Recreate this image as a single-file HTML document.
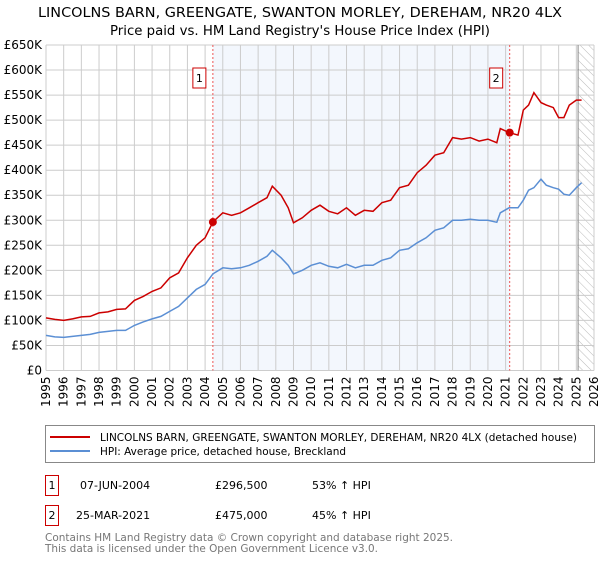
<!DOCTYPE html>
<html><head><meta charset="utf-8"><style>
body{margin:0;background:#fff;font-family:"Liberation Sans","DejaVu Sans",sans-serif;}
text{font-family:"DejaVu Sans","Liberation Sans",sans-serif;}
</style></head><body>
<svg id="chart" width="600" height="560" xmlns="http://www.w3.org/2000/svg">
<defs><pattern id="hatch" width="6" height="6" patternUnits="userSpaceOnUse" patternTransform="rotate(-45)"><line x1="0" y1="0" x2="0" y2="6" stroke="#bbb" stroke-width="1"/></pattern></defs>
<text x="38" y="17" font-size="13" textLength="524" lengthAdjust="spacingAndGlyphs">LINCOLNS BARN, GREENGATE, SWANTON MORLEY, DEREHAM, NR20 4LX</text>
<text x="110" y="35" font-size="13" textLength="380" lengthAdjust="spacingAndGlyphs">Price paid vs. HM Land Registry's House Price Index (HPI)</text>
<g id="plot"></g>
<rect x="45.5" y="425.5" width="549" height="37" fill="#fff" stroke="#888"/>
<line x1="50" y1="437" x2="90" y2="437" stroke="#cc0000" stroke-width="2"/>
<text x="100" y="441" font-size="11" textLength="477" lengthAdjust="spacingAndGlyphs">LINCOLNS BARN, GREENGATE, SWANTON MORLEY, DEREHAM, NR20 4LX (detached house)</text>
<line x1="50" y1="451" x2="90" y2="451" stroke="#5b8fd4" stroke-width="2"/>
<text x="100" y="455" font-size="11" textLength="246" lengthAdjust="spacingAndGlyphs">HPI: Average price, detached house, Breckland</text>
<g font-size="11">
<rect x="45.5" y="475.5" width="13" height="20" fill="#fff" stroke="#cc0000"/>
<text x="52" y="489" text-anchor="middle">1</text>
<text x="80" y="489">07-JUN-2004</text><text x="215" y="489">£296,500</text><text x="312" y="489">53% ↑ HPI</text></g>
<g font-size="11">
<rect x="45.5" y="505.5" width="13" height="20" fill="#fff" stroke="#cc0000"/>
<text x="52" y="519" text-anchor="middle">2</text>
<text x="76" y="519">25-MAR-2021</text><text x="215" y="519">£475,000</text><text x="312" y="519">45% ↑ HPI</text></g>
<text x="45" y="541" font-size="11" fill="#777" textLength="408" lengthAdjust="spacingAndGlyphs">Contains HM Land Registry data © Crown copyright and database right 2025.</text>
<text x="45" y="552" font-size="11" fill="#777" textLength="333" lengthAdjust="spacingAndGlyphs">This data is licensed under the Open Government Licence v3.0.</text>
</svg>
<script>
const hpiYears=[1995,1995.5,1996,1996.5,1997,1997.5,1998,1998.5,1999,1999.5,2000,2000.5,2001,2001.5,2002,2002.5,2003,2003.5,2004,2004.44,2005,2005.5,2006,2006.5,2007,2007.5,2007.8,2008.3,2008.7,2009,2009.5,2010,2010.5,2011,2011.5,2012,2012.5,2013,2013.5,2014,2014.5,2015,2015.5,2016,2016.5,2017,2017.5,2018,2018.5,2019,2019.5,2020,2020.5,2020.7,2021.2,2021.7,2022,2022.3,2022.6,2023,2023.3,2023.7,2024,2024.3,2024.6,2025,2025.3];
const hpiValues=[70,67,66,68,70,72,76,78,80,80,90,97,103,108,118,128,145,162,172,193,205,203,205,210,218,228,240,225,210,193,200,210,215,208,205,212,205,210,210,220,225,240,243,255,265,280,285,300,300,302,300,300,296,315,325,325,340,360,365,382,370,365,362,352,350,365,375];
const priceValues=[105,102,100,103,107,108,115,117,122,123,140,148,158,165,185,195,225,250,265,296.5,315,310,315,325,335,345,368,350,325,295,305,320,330,318,313,325,310,320,318,335,340,365,370,395,410,430,435,465,462,465,458,462,455,483,475,470,520,530,555,535,530,525,505,505,530,540,540];
const yTicks=[0,50,100,150,200,250,300,350,400,450,500,550,600,650];
const xTicks=[1995,1996,1997,1998,1999,2000,2001,2002,2003,2004,2005,2006,2007,2008,2009,2010,2011,2012,2013,2014,2015,2016,2017,2018,2019,2020,2021,2022,2023,2024,2025,2026];
const sales=[{t:2004.44,v:296.5,label:"1"},{t:2021.23,v:475,label:"2"}];
const X0=46,X1=594,Y0=370.5,Y1=45;
const x=t=>X0+(t-1995)/(2026-1995)*(X1-X0);
const y=v=>Y0-v/650*(Y0-Y1);
const ns="http://www.w3.org/2000/svg";
const g=document.getElementById('plot');
function mk(tag,attrs){const e=document.createElementNS(ns,tag);for(const k in attrs)e.setAttribute(k,attrs[k]);g.appendChild(e);return e;}
let e=mk('rect',{x:x(sales[0].t),y:Y1,width:x(sales[1].t)-x(sales[0].t),height:Y0-Y1,fill:'#eef3fc',opacity:0.7});


e=mk('rect',{x:x(2025.1),y:Y1,width:X1-x(2025.1),height:Y0-Y1,fill:'url(#hatch)'});


yTicks.forEach(v=>{
 const l=mk('line',{x1:X0,x2:X1,y1:y(v),y2:y(v),stroke:'#ccc'});
 
 
 const t=mk('text',{x:X0-4,y:y(v)+4,'text-anchor':'end','font-size':12});
 t.textContent='£'+v+(v?'K':'');
 
 
});
xTicks.forEach(yr=>{
 const l=mk('line',{x1:x(yr),x2:x(yr),y1:Y1,y2:Y0,stroke:'#ccc'});
 
 
 const t=mk('text',{x:0,y:0,'font-size':12,'text-anchor':'end',transform:`translate(${x(yr)+4},${Y0+6}) rotate(-90)`});
 t.textContent=yr;
 
 
});
e=mk('line',{x1:x(2025.1),x2:x(2025.1),y1:Y1,y2:Y0,stroke:'#888'});


sales.forEach(s=>{
 const l=mk('line',{x1:x(s.t),x2:x(s.t),y1:Y1,y2:Y0,stroke:'#ee5555','stroke-dasharray':'2,2'});
 
 
 const r=mk('rect',{x:x(s.t)-20,y:68,width:13,height:20,fill:'#fff',stroke:'#cc0000'});
 
 
 const t=mk('text',{x:x(s.t)-13.5,y:82,'text-anchor':'middle','font-size':11});
 t.textContent=s.label;
 
 
});
const path=vals=>vals.map((v,i)=>(i?'L':'M')+x(hpiYears[i]).toFixed(1)+','+y(v).toFixed(1)).join('');
e=mk('path',{d:path(hpiValues),fill:'none',stroke:'#5b8fd4','stroke-width':1.5});


e=mk('path',{d:path(priceValues),fill:'none',stroke:'#cc0000','stroke-width':1.5});


sales.forEach(s=>{
 const c=mk('circle',{cx:x(s.t),cy:y(s.v),r:4,fill:'#cc0000'});
 
 
});
</script>
</body></html>
